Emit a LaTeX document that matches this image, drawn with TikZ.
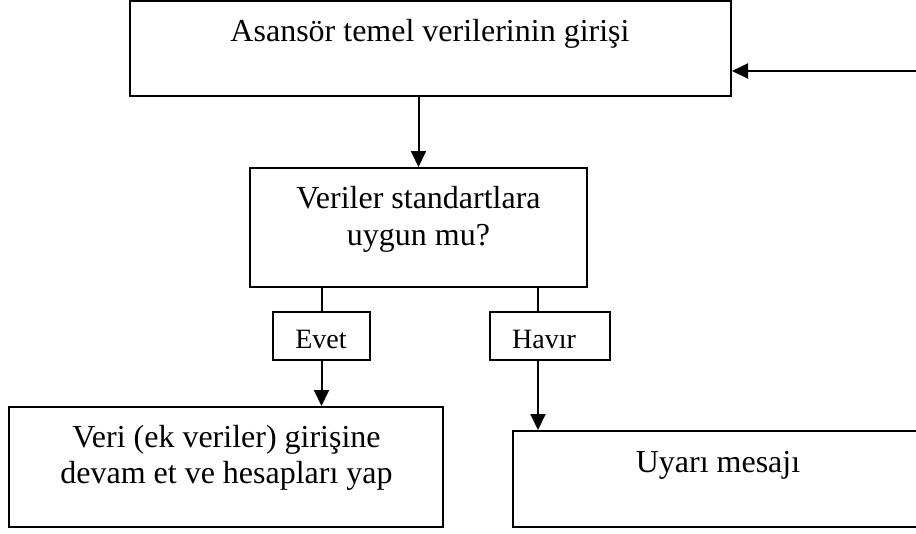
\documentclass[tikz,border=0pt]{standalone}
\usepackage{fontspec}
\setmainfont{Liberation Serif}
\usetikzlibrary{arrows.meta}
\begin{document}
\begin{tikzpicture}[x=1pt,y=-1pt,
  box/.style={draw,line width=2pt,inner sep=0pt,rectangle},
  txt/.style={inner sep=0pt,anchor=base,font=\fontsize{32}{37}\selectfont},
  stxt/.style={inner sep=0pt,anchor=base,font=\fontsize{28}{32}\selectfont},
  conn/.style={line width=2pt},
  arr/.style={line width=2pt,-{Triangle[length=16pt,width=15pt]}}]
\useasboundingbox (0,0) rectangle (916,533);
\clip (0,0) rectangle (916,533);
% boxes
\node[box,minimum width=601pt,minimum height=95pt] (top) at (430.5,48.5) {};
\node[box,minimum width=337pt,minimum height=119pt] (mid) at (418.5,227.5) {};
\node[box,minimum width=97pt,minimum height=48pt] (evet) at (321.5,336) {};
\node[box,minimum width=120pt,minimum height=48pt] (havir) at (550,336) {};
\node[box,minimum width=434pt,minimum height=120pt] (left) at (226,467) {};
\node[box,minimum width=412pt,minimum height=96pt] (uyari) at (719,479) {};
% texts
\node[txt] (t1) at (430,41) {Asansör temel verilerinin girişi};
\node[txt] (t2a) at (418.5,208) {Veriler standartlara};
\node[txt] (t2b) at (418.5,245) {uygun mu?};
\node[stxt] (t3) at (321,348) {Evet};
\node[stxt] (t4) at (544,348) {Havır};
\node[txt] (t5a) at (226.5,447) {Veri (ek veriler) girişine};
\node[txt] (t5b) at (226.5,483) {devam et ve hesapları yap};
\node[txt] (t6) at (718,472) {Uyarı mesajı};
% connectors
\coordinate (r) at (916,71);
\draw[arr] (r) -- (r -| top.east);
\draw[arr] (mid.north |- top.south) -- (mid.north);
\draw[conn] (evet.north |- mid.south) -- (evet.north);
\draw[arr] (evet.south) -- (evet.south |- left.north);
\coordinate (hs) at ([xshift=-12pt]havir.north);
\coordinate (he) at ([xshift=-12pt]havir.south);
\draw[conn] (hs |- mid.south) -- (hs);
\draw[arr] (he) -- (he |- uyari.north);
\end{tikzpicture}
\end{document}
